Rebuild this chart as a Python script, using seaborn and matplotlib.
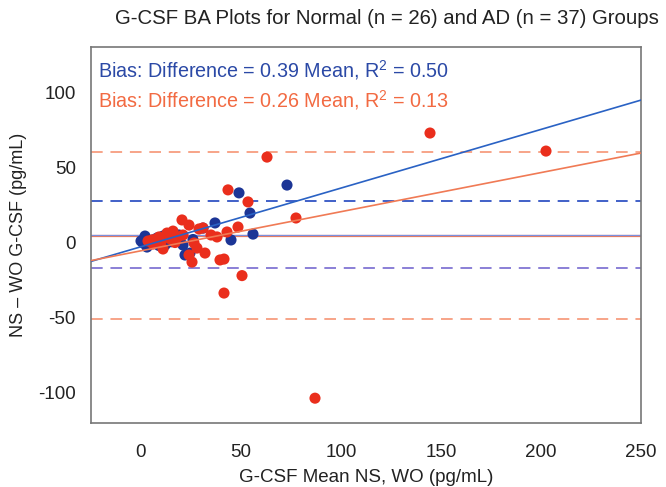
import numpy as np
import pandas as pd
import matplotlib
matplotlib.use("Agg")
import matplotlib.pyplot as plt
import seaborn as sns

# ---- data ----
ad_mean = [144.5, 202.5, 63, 43.5, 53.5, 77.5, 48.5, 43, 38, 39.5, 41.5, 50.5, 41.5, 87,
           29, 31, 20.5, 24, 16, 13, 9, 5.5, 3.5, 7.5, 11, 18.5, 26.5, 28, 24, 25.5, 32,
           14.5, 21, 10, 17, 6, 35]
ad_diff = [72.8, 60.8, 56.8, 35, 27, 16.3, 10.3, 7, 3.7, -11.6, -11, -22, -33.6, -103.5,
           9, 9.7, 15, 11.6, 7.6, 6.3, 3.7, 1.7, 1, 2.3, -4.3, 3.7, -0.3, -3.7, -8.3, -13, -7,
           2.5, 5, 0.5, 0, -1, 5]
nl_mean = [73, 49, 54.5, 56, 45, 37, 31, 2, 1, 3, 11, 12, 17, 21, 22, 24.5, 6, 0, 4, 8,
           14, 19, 9, 26, 15, 2.5]
nl_diff = [38.2, 33, 19.6, 5.6, 1.7, 13, 9.6, 4.3, -0.3, -3, 4.3, -1.7, 3, -1.7, -8.3, -7,
           1.7, 1, 0.5, 3, 2, 5, -2, 2, 0.5, 2]

groups = ["Normal", "AD"]
slopes = [0.39, 0.26]
intercepts = [-2.8, -5.5]
r2 = ["0.50", "0.13"]
bias_mean = [5.0, 4.5]
loa_upper = [27.5, 60.0]
loa_lower = [-17.0, -51.0]

df = pd.DataFrame({
    "mean": nl_mean + ad_mean,
    "diff": nl_diff + ad_diff,
    "group": ["Normal"] * len(nl_mean) + ["AD"] * len(ad_mean),
})

dot_colors = {"Normal": "#1c3596", "AD": "#ea2e1c"}
line_colors = {"Normal": "#2a62c4", "AD": "#f07a55"}
dash_colors = {"Normal": "#4060c8", "AD": "#f7a488"}
text_colors = {"Normal": "#2b49a6", "AD": "#f26a42"}

sns.set_style("white")
plt.rcParams["font.family"] = ["Liberation Sans", "DejaVu Sans"]
plt.rcParams["axes.unicode_minus"] = False
plt.rcParams["mathtext.fontset"] = "custom"
plt.rcParams["mathtext.rm"] = "Liberation Sans"

fig = plt.figure(figsize=(6.66, 4.87), dpi=100)
ax = fig.add_axes([91 / 666, 1 - 423 / 487, 550 / 666, 376 / 487])

xlim = (-25, 250)
ylim = (-120, 130)

# reference lines
for i, g in enumerate(groups):
    ax.axhline(loa_upper[i], color=dash_colors[g], lw=1.4, ls=(0, (6, 4)), zorder=1)
    ax.axhline(loa_lower[i], color=dash_colors[g] if g == "AD" else "#8a7fd6", lw=1.4,
               ls=(0, (6, 4)), zorder=1)
ax.axhline(bias_mean[1], color=line_colors["AD"], lw=1.6, zorder=1)
ax.axhline(bias_mean[0], color="#7a8fe0", lw=0.9, zorder=1)

# points
sns.scatterplot(data=df, x="mean", y="diff", hue="group", palette=dot_colors,
                hue_order=groups, s=64, edgecolor="none", legend=False, ax=ax, zorder=3)

# regression lines
xs = np.linspace(xlim[0], xlim[1], 50)
for i, g in enumerate(groups):
    ax.plot(xs, slopes[i] * xs + intercepts[i], color=line_colors[g], lw=1.2, zorder=4)

ax.set_xlim(*xlim)
ax.set_ylim(*ylim)
ax.set_xticks([0, 50, 100, 150, 200, 250])
ax.set_yticks([-100, -50, 0, 50, 100])
ax.tick_params(axis="both", which="both", direction="out", length=5, width=1,
               color="#555555", labelsize=13.5, labelcolor="#222222")
ax.tick_params(axis="x", pad=10)
ax.tick_params(axis="y", pad=6)
for sp in ax.spines.values():
    sp.set_color("#777777")
    sp.set_linewidth(1.2)

ax.set_xlabel("G-CSF Mean NS, WO (pg/mL)", fontsize=13.5, color="#222222", labelpad=6)
ax.set_ylabel("NS – WO G-CSF (pg/mL)", fontsize=13, color="#222222", labelpad=8)
fig.text(0.581, 0.962, "G-CSF BA Plots for Normal (n = 26) and AD (n = 37) Groups",
         ha="center", va="center", fontsize=14.7, color="#222222")

for i, g in enumerate(groups):
    ax.text(0.012, 0.94 - i * 0.08,
            f"Bias: Difference = {slopes[i]:.2f} Mean, R$^2$ = {r2[i]}",
            transform=ax.transAxes, ha="left", va="center", fontsize=14.2,
            color=text_colors[g])

fig.savefig("out.png", dpi=100)
